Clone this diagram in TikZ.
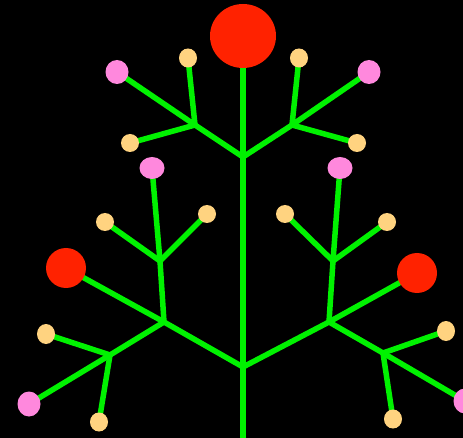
\documentclass[tikz,border=0pt]{standalone}
\usetikzlibrary{shapes.geometric}
\definecolor{stemgreen}{RGB}{0,242,0}
\definecolor{budred}{RGB}{255,34,0}
\definecolor{budpink}{RGB}{255,136,221}
\definecolor{budyellow}{RGB}{255,211,128}

\begin{document}
\begin{tikzpicture}[x=1pt,y=-1pt]

% Each bud is specified as:
% \bloom{coordinate}{width}{height}{fill}
\newcommand{\bloom}[4]{%
  \node[bud=#4, minimum width=#2, minimum height=#3] (#1 bud) at (#1) {};
}

\tikzset{
  stem/.style={
    draw=stemgreen,
    line width=5.5pt,
    line cap=round,
    line join=round
  },
  bud/.style={
    ellipse,
    inner sep=0pt,
    draw=none,
    fill=#1
  }
}

% Black background, which also fixes the page size.
\fill[black] (0,0) rectangle (463,438);
\useasboundingbox (0,0) rectangle (463,438);

% Forks of the tree.
\coordinate (base) at (243,438);
\coordinate (low fork) at (243,367);
\coordinate (high fork) at (243,157);
\coordinate (top) at (243,36);
\coordinate (tl) at (195,125);
\coordinate (tr) at (292,125);
\coordinate (l1) at (164,322);
\coordinate (r1) at (329,322);
\coordinate (la) at (160,261);
\coordinate (lb) at (110,355);
\coordinate (ra) at (333,261);
\coordinate (rb) at (383,353);

% Tips where the buds sit.
\coordinate (tlp) at (117,72);
\coordinate (tly) at (188,58);
\coordinate (tlz) at (130,143);
\coordinate (trp) at (369,72);
\coordinate (try) at (299,58);
\coordinate (trz) at (357,143);
\coordinate (lap) at (152,168);
\coordinate (lay) at (105,222);
\coordinate (laz) at (207,214);
\coordinate (lr) at (66,268);
\coordinate (lby) at (46,334);
\coordinate (lbp) at (29,404);
\coordinate (lbz) at (99,422);
\coordinate (rap) at (340,168);
\coordinate (ray) at (285,214);
\coordinate (raz) at (387,222);
\coordinate (rr) at (417,273);
\coordinate (rby) at (446,331);
\coordinate (rbp) at (465,401);
\coordinate (rbz) at (393,419);

% Trunk and main branches.
\draw[stem] (base) -- (low fork) -- (high fork) -- (top);
\draw[stem] (l1) -- (low fork) -- (r1);
\draw[stem] (tl) -- (high fork) -- (tr);

% Upper twigs.
\draw[stem] (tlp) -- (tl) -- (tly);
\draw[stem] (tlz) -- (tl);
\draw[stem] (trp) -- (tr) -- (try);
\draw[stem] (trz) -- (tr);

% Left branch.
\draw[stem] (l1) -- (la) -- (lap);
\draw[stem] (lay) -- (la) -- (laz);
\draw[stem] (lr) -- (l1) -- (lb);
\draw[stem] (lby) -- (lb) -- (lbz);
\draw[stem] (lbp) -- (lb);

% Right branch.
\draw[stem] (r1) -- (ra) -- (rap);
\draw[stem] (ray) -- (ra) -- (raz);
\draw[stem] (rr) -- (r1) -- (rb);
\draw[stem] (rby) -- (rb) -- (rbz);
\draw[stem] (rbp) -- (rb);

% Buds.
\bloom{top}{66pt}{64pt}{budred}
\bloom{lr}{40pt}{40pt}{budred}
\bloom{rr}{40pt}{40pt}{budred}
\bloom{tlp}{23pt}{24pt}{budpink}
\bloom{trp}{23pt}{24pt}{budpink}
\bloom{lap}{25pt}{22pt}{budpink}
\bloom{rap}{25pt}{22pt}{budpink}
\bloom{lbp}{23pt}{25pt}{budpink}
\bloom{rbp}{23pt}{25pt}{budpink}
\bloom{tly}{18pt}{19pt}{budyellow}
\bloom{tlz}{18pt}{18pt}{budyellow}
\bloom{try}{18pt}{19pt}{budyellow}
\bloom{trz}{18pt}{18pt}{budyellow}
\bloom{lay}{18pt}{18pt}{budyellow}
\bloom{laz}{18pt}{18pt}{budyellow}
\bloom{ray}{18pt}{18pt}{budyellow}
\bloom{raz}{18pt}{18pt}{budyellow}
\bloom{lby}{18pt}{20pt}{budyellow}
\bloom{lbz}{18pt}{19pt}{budyellow}
\bloom{rby}{18pt}{20pt}{budyellow}
\bloom{rbz}{18pt}{19pt}{budyellow}

\end{tikzpicture}
\end{document}
